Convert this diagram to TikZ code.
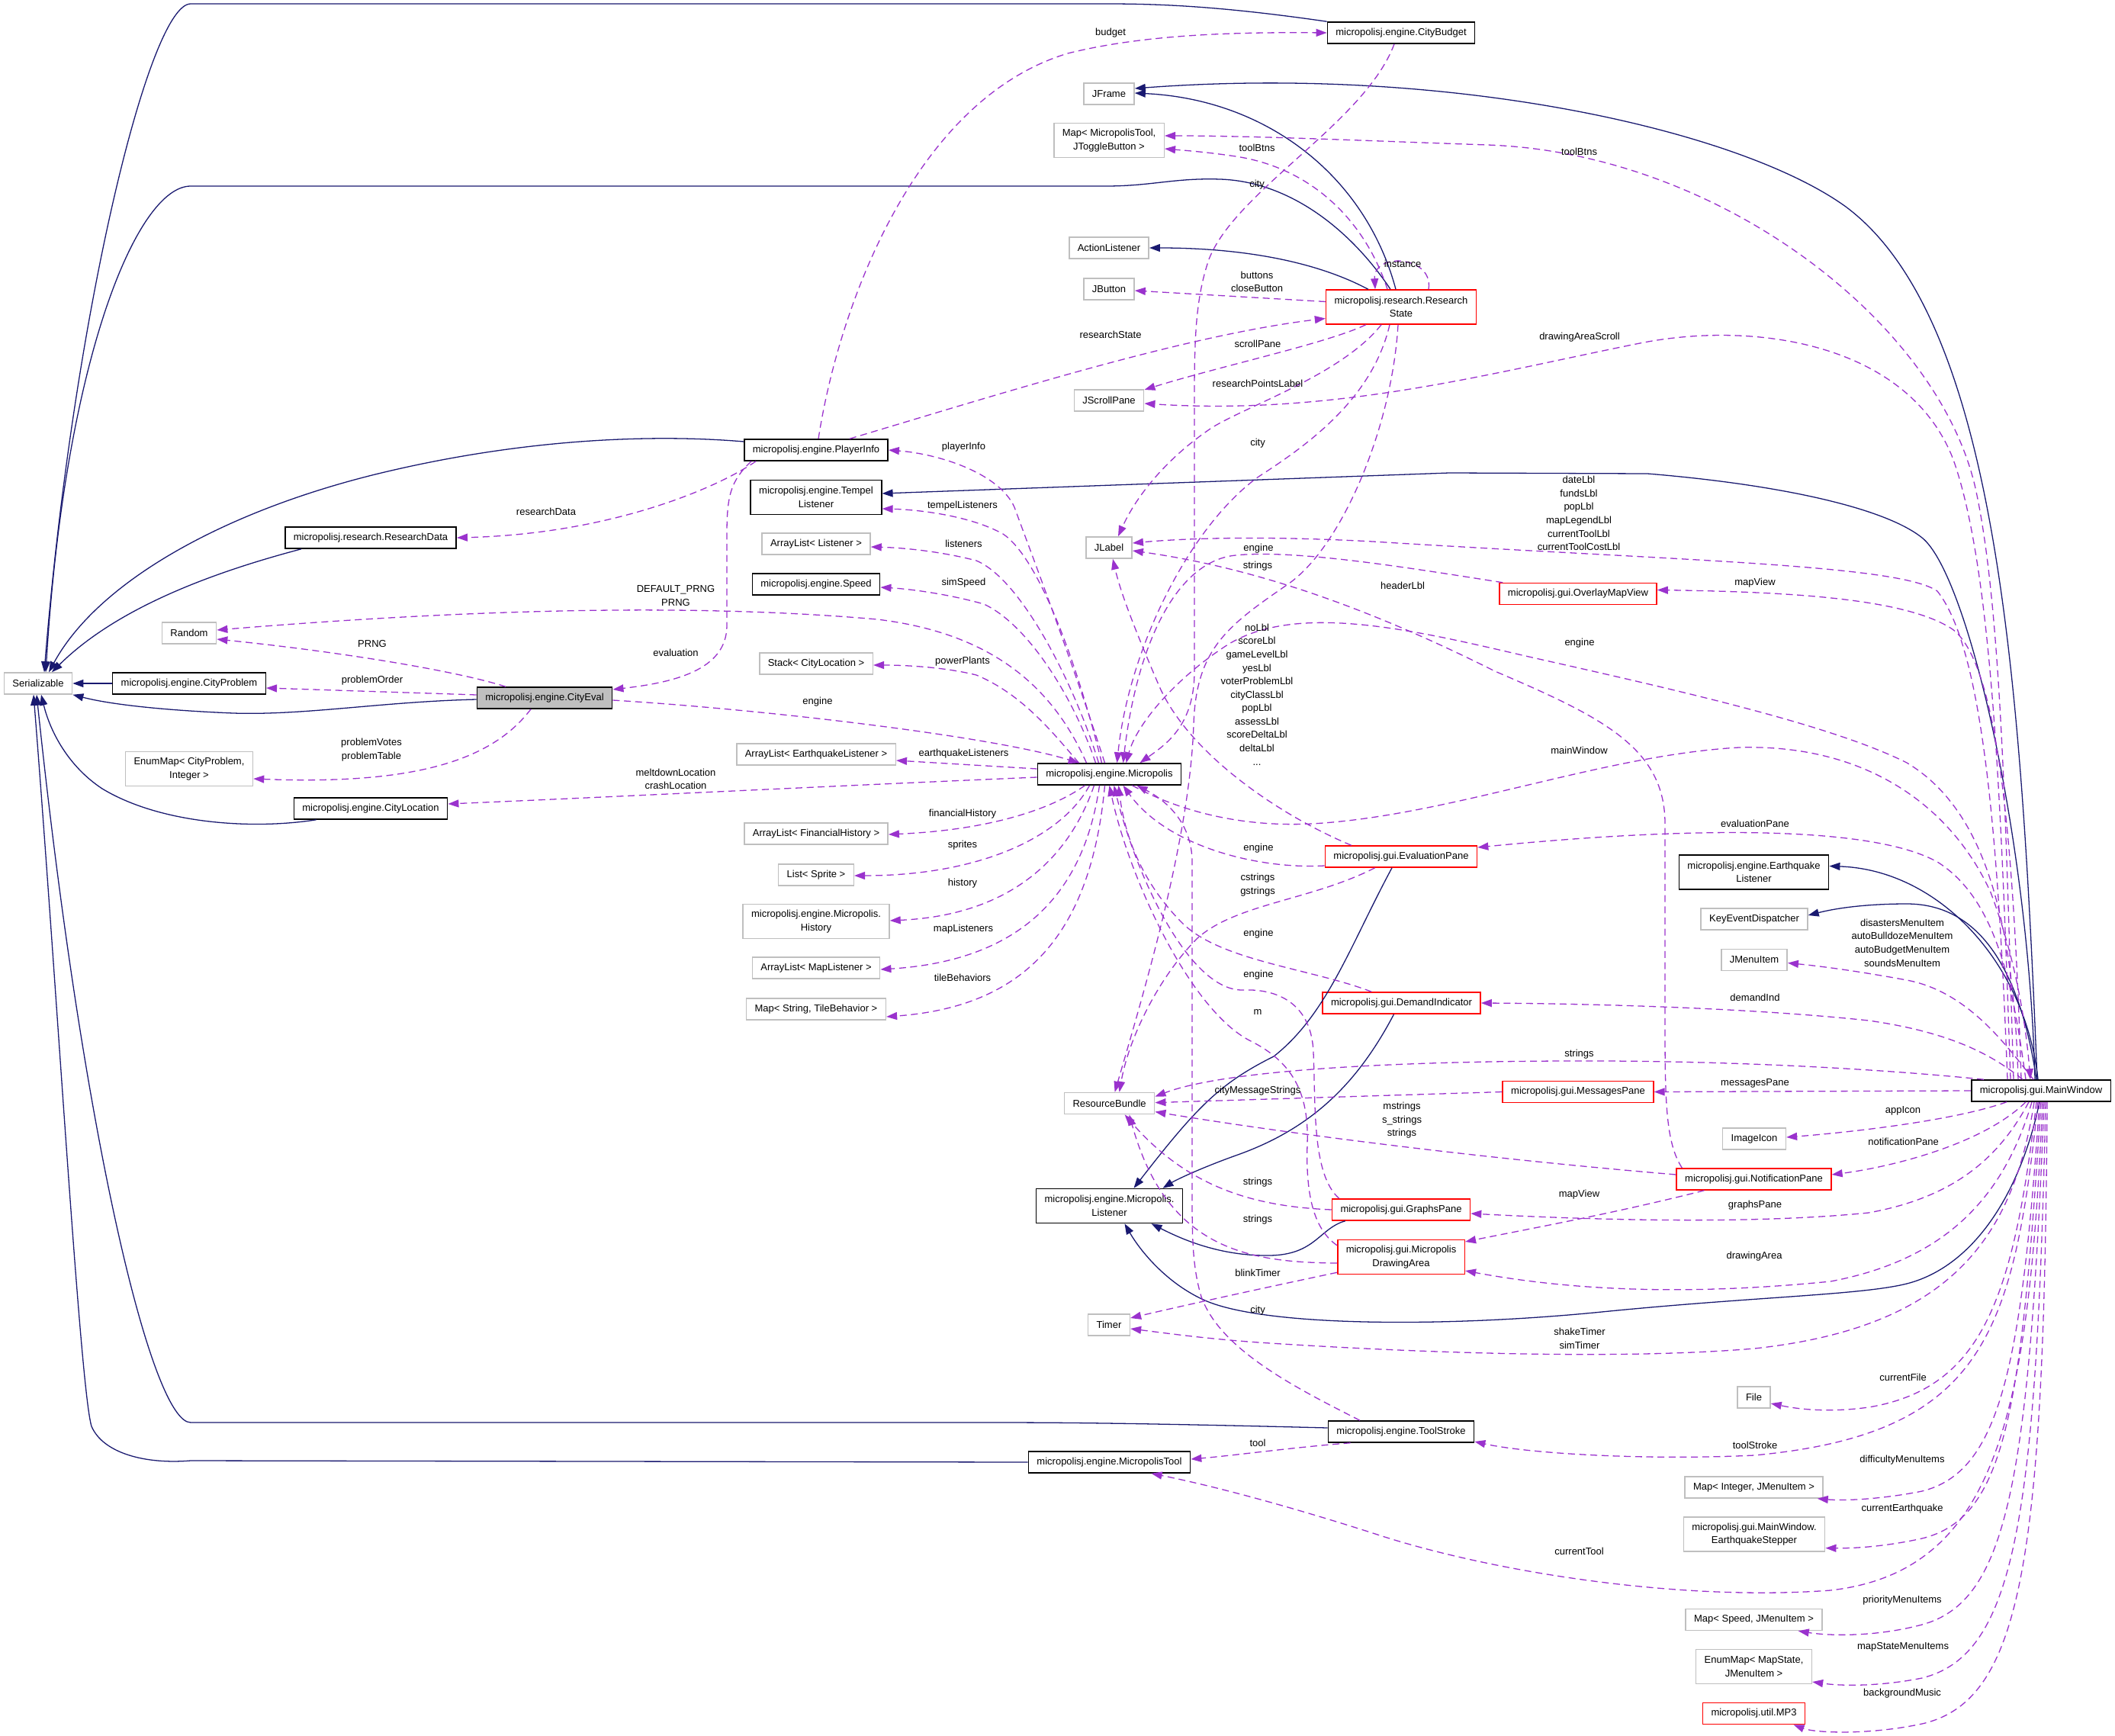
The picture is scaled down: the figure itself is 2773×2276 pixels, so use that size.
\documentclass[tikz,border=0pt]{standalone}
\usepackage{fontspec}
\setmainfont{Liberation Sans}
\usetikzlibrary{calc, arrows.meta}
\definecolor{inhblue}{RGB}{25,25,112}
\definecolor{usepurple}{RGB}{154,50,205}
\definecolor{boxgray}{RGB}{191,191,191}
\definecolor{boxred}{RGB}{255,0,0}
\tikzset{
  cls/.style={draw=black, fill=white, line width=1.3pt, inner xsep=9.4pt, inner ysep=0pt,
    minimum height=0.84cm, align=center, font=\fontsize{11.1}{15}\selectfont},
  ext/.style={cls, draw=boxgray},
  redcls/.style={cls, draw=boxred},
  twoline/.style={minimum height=1.35cm},
  inh/.style={draw=inhblue, line width=1.1pt, ->},
  use/.style={draw=usepurple, line width=1.1pt, dash pattern=on 0.27cm off 0.17cm, ->},
  lbl/.style={align=center, inner sep=0pt, font=\fontsize{11.1}{15}\selectfont}
}

\begin{document}
\begin{tikzpicture}[x=0.03cm, y=-0.03cm, >={Triangle[length=0.42cm,width=0.3cm]}]
    \fill[white] (0,0) rectangle (2773,2276);
    \useasboundingbox (0,0) rectangle (2773,2276);

    % classes
    \node[ext] (ser) at (50,896) {Serializable};
    \node[ext] (rnd) at (248,830) {Random};
    \node[cls] (cprob) at (248,896) {micropolisj.engine.CityProblem};
    \node[cls, fill=boxgray] (ceval) at (714,915) {micropolisj.engine.CityEval};
    \node[ext, twoline] (enummap) at (248,1008) {EnumMap< CityProblem,\\Integer >};
    \node[cls] (cloc) at (486,1060) {micropolisj.engine.CityLocation};
    \node[cls] (rdata) at (486,705) {micropolisj.research.ResearchData};
    \node[cls] (pinfo) at (1070,590) {micropolisj.engine.PlayerInfo};
    \node[cls, twoline] (tempel) at (1070,652) {micropolisj.engine.Tempel\\Listener};
    \node[ext] (alist) at (1070,713) {ArrayList< Listener >};
    \node[cls] (speed) at (1070,766) {micropolisj.engine.Speed};
    \node[ext] (stack) at (1070,870) {Stack< CityLocation >};
    \node[ext] (aeq) at (1070,989) {ArrayList< EarthquakeListener >};
    \node[ext] (afin) at (1070,1093) {ArrayList< FinancialHistory >};
    \node[ext] (lsprite) at (1070,1147) {List< Sprite >};
    \node[ext, twoline] (hist) at (1070,1208) {micropolisj.engine.Micropolis.\\History};
    \node[ext] (amap) at (1070,1269) {ArrayList< MapListener >};
    \node[ext] (mtile) at (1070,1323) {Map< String, TileBehavior >};
    \node[cls] (cbud) at (1837,43) {micropolisj.engine.CityBudget};
    \node[ext] (jframe) at (1454,123) {JFrame};
    \node[ext, twoline] (mtool) at (1454,184) {Map< MicropolisTool,\\JToggleButton >};
    \node[ext] (alis) at (1454,325) {ActionListener};
    \node[ext] (jbut) at (1454,379) {JButton};
    \node[redcls, twoline] (rstate) at (1837,402.5) {micropolisj.research.Research\\State};
    \node[ext] (jscroll) at (1454,525) {JScrollPane};
    \node[ext] (jlabel) at (1454,718) {JLabel};
    \node[cls] (micro) at (1454.5,1015) {micropolisj.engine.Micropolis};
    \node[ext] (rbund) at (1454.6,1446.6) {ResourceBundle};
    \node[cls, twoline] (mlist) at (1454.5,1581) {micropolisj.engine.Micropolis.\\Listener};
    \node[ext] (timer) at (1454,1737) {Timer};
    \node[cls] (mtoolc) at (1454.5,1917) {micropolisj.engine.MicropolisTool};
    \node[redcls] (evpane) at (1837,1123) {micropolisj.gui.EvaluationPane};
    \node[redcls] (dind) at (1837.5,1315) {micropolisj.gui.DemandIndicator};
    \node[redcls] (gpane) at (1837,1586) {micropolisj.gui.GraphsPane};
    \node[redcls, twoline] (darea) at (1837,1648) {micropolisj.gui.Micropolis\\DrawingArea};
    \node[cls] (tstroke) at (1837,1877) {micropolisj.engine.ToolStroke};
    \node[redcls] (omap) at (2069,778.5) {micropolisj.gui.OverlayMapView};
    \node[redcls] (mpane) at (2069,1431.5) {micropolisj.gui.MessagesPane};
    \node[cls, twoline] (eql) at (2299.5,1143.5) {micropolisj.engine.Earthquake\\Listener};
    \node[ext] (ked) at (2300,1205) {KeyEventDispatcher};
    \node[ext] (jmenu) at (2300,1258.5) {JMenuItem};
    \node[ext] (icon) at (2300,1493) {ImageIcon};
    \node[redcls] (npane) at (2299.5,1546) {micropolisj.gui.NotificationPane};
    \node[ext] (file) at (2299.5,1832) {File};
    \node[ext] (mint) at (2299.5,1950) {Map< Integer, JMenuItem >};
    \node[ext, twoline] (estep) at (2300,2011.6) {micropolisj.gui.MainWindow.\\EarthquakeStepper};
    \node[ext] (mspeed) at (2299.5,2123.5) {Map< Speed, JMenuItem >};
    \node[ext, twoline] (emap) at (2299.5,2185) {EnumMap< MapState,\\JMenuItem >};
    \node[redcls] (mp3) at (2299.5,2246.5) {micropolisj.util.MP3};
    \node[cls] (mwin) at (2676,1430) {micropolisj.gui.MainWindow};

    % inheritance
    \draw[inh] (cbud.north west) .. controls (1600,8) and (1520,5) .. (1450,5) -- (250,5) .. controls (195,5) and (95,420) .. ($(ser.north)+(8,0)$);
    \draw[inh] ($(rstate.north)+(-14,0)$) .. controls (1770,300) and (1690,238) .. (1600,235) .. controls (1540,233) and (1510,244) .. (1450,244) -- (250,244) .. controls (180,244) and (85,470) .. ($(ser.north)+(10,0)$);
    \draw[inh] ($(pinfo.west)+(0,-11)$) .. controls (870,570) and (700,572) .. (500,620) .. controls (300,668) and (130,760) .. ($(ser.north)+(14,0)$);
    \draw[inh] ($(rdata.south west)+(22,0)$) .. controls (300,745) and (160,790) .. ($(ser.north)+(18,0)$);
    \draw[inh] (cprob.west) -- (ser.east);
    \draw[inh] ($(ceval.west)+(0,2)$) .. controls (500,920) and (400,938) .. (306,935) .. controls (230,932) and (150,925) .. (ser.south east);
    \draw[inh] ($(cloc.south west)+(30,0)$) .. controls (330,1088) and (210,1080) .. (134,1034) .. controls (90,1005) and (66,960) .. ($(ser.south)+(4,0)$);
    \draw[inh] ($(tstroke.west)+(0,-5)$) .. controls (1500,1866) and (1400,1865) .. (1300,1865) -- (250,1865) .. controls (200,1865) and (110,1500) .. ($(ser.south)+(-2,0)$);
    \draw[inh] (mtoolc.west) -- (250,1915) .. controls (190,1920) and (135,1905) .. (120,1870) .. controls (105,1820) and (75,1300) .. ($(ser.south)+(-6,0)$);
    \draw[inh] ($(rstate.north)+(-7,0)$) .. controls (1790,230) and (1660,130) .. ($(jframe.east)+(0,-1)$);
    \draw[inh] ($(mwin.north)+(-5,0)$) .. controls (2650,900) and (2620,420) .. (2420,271) .. controls (2280,170) and (1900,85) .. ($(jframe.east)+(0,-7)$);
    \draw[inh] ($(rstate.north west)+(56,0)$) .. controls (1720,340) and (1620,325) .. (alis.east);
    \draw[inh] ($(mwin.north)+(-8,0)$) .. controls (2660,1100) and (2580,753) .. (2520,705) .. controls (2470,665) and (2330,635) .. (2160,621) -- (1900,620) -- ($(tempel.east)+(0,-5)$);
    \draw[inh] ($(mwin.north)+(-4,0)$) .. controls (2655,1260) and (2540,1140) .. ($(eql.east)+(0,-8)$);
    \draw[inh] ($(mwin.north)+(-6,0)$) .. controls (2650,1280) and (2600,1185) .. (2500,1185) .. controls (2450,1185) and (2410,1190) .. ($(ked.east)+(0,-5)$);
    \draw[inh] ($(evpane.south)+(-12,0)$) .. controls (1770,1240) and (1740,1330) .. (1670,1385) .. controls (1600,1420) and (1570,1450) .. ($(mlist.north)+(32,0)$);
    \draw[inh] ($(dind.south)+(-10,0)$) .. controls (1780,1420) and (1720,1480) .. (1620,1515) .. controls (1570,1533) and (1540,1548) .. ($(mlist.north)+(70,0)$);
    \draw[inh] ($(gpane.south west)+(18,0)$) .. controls (1730,1610) and (1725,1645) .. (1665,1646) .. controls (1600,1647) and (1550,1625) .. ($(mlist.south)+(55,0)$);
    \draw[inh] ($(mwin.south)+(-2,0)$) .. controls (2650,1560) and (2590,1660) .. (2500,1683) .. controls (2440,1698) and (2300,1700) .. (2100,1720) .. controls (1900,1740) and (1660,1740) .. (1580,1705) .. controls (1530,1683) and (1495,1640) .. ($(mlist.south)+(20,0)$);

    % usage: CityEval, PlayerInfo
    \draw[use] ($(ceval.north)+(-51,0)$) .. controls (600,880) and (450,855) .. ($(rnd.east)+(0,8)$);
    \draw[use] ($(ceval.west)+(0,-4)$) -- ($(cprob.east)+(0,6)$);
    \draw[use] ($(ceval.south)+(-18,0)$) .. controls (650,990) and (560,1030) .. ($(enummap.east)+(0,13)$);
    \draw[use] ($(ceval.east)+(0,3)$) .. controls (1000,930) and (1300,965) .. ($(micro.north west)+(55,0)$);
    \draw[use] ($(pinfo.north)+(3,0)$) .. controls (1100,400) and (1200,130) .. (1400,70) .. controls (1500,45) and (1620,42) .. (cbud.west);
    \draw[use] ($(pinfo.north east)+(-51,0)$) .. controls (1300,520) and (1550,440) .. ($(rstate.west)+(0,15)$);
    \draw[use] ($(pinfo.south west)+(16,0)$) .. controls (940,640) and (800,700) .. (rdata.east);
    \draw[use] ($(pinfo.south west)+(10,0)$) .. controls (958,630) and (953,650) .. (953,700) -- (953,820) .. controls (953,880) and (880,895) .. ($(ceval.east)+(0,-11)$);

    % usage: ResearchState, CityBudget, ToolStroke
    \draw[use] ($(rstate.north)+(36,0)$) .. controls (1880,335) and (1800,330) .. ($(rstate.north)+(-34,0)$);
    \draw[use] ($(rstate.north)+(-18,0)$) .. controls (1790,290) and (1720,220) .. (1620,205) .. controls (1580,199) and (1550,197) .. ($(mtool.east)+(0,11)$);
    \draw[use] ($(rstate.west)+(0,-7)$) -- ($(jbut.east)+(0,2)$);
    \draw[use] ($(rstate.south west)+(53,0)$) .. controls (1740,450) and (1600,480) .. ($(jscroll.east)+(0,-14)$);
    \draw[use] ($(rstate.south)+(-26,0)$) .. controls (1760,490) and (1640,530) .. (1590,560) .. controls (1530,600) and (1490,650) .. ($(jlabel.north)+(12,0)$);
    \draw[use] ($(rstate.south)+(-15,0)$) .. controls (1800,520) and (1720,580) .. (1650,625) .. controls (1560,690) and (1480,850) .. ($(micro.north)+(10,0)$);
    \draw[use] ($(rstate.south)+(-4,0)$) .. controls (1825,560) and (1760,715) .. (1690,765) .. controls (1610,820) and (1568,850) .. (1565,950) .. controls (1560,1100) and (1500,1300) .. ($(rbund.north)+(7,0)$);
    \draw[use] ($(cbud.south)+(-9,0)$) .. controls (1790,160) and (1620,250) .. (1585,340) .. controls (1568,390) and (1566,440) .. (1566,520) -- (1566,880) .. controls (1566,950) and (1530,975) .. ($(micro.north)+(40,0)$);
    \draw[use] ($(tstroke.north)+(-54,0)$) .. controls (1700,1820) and (1600,1770) .. (1575,1700) .. controls (1563,1660) and (1563,1620) .. (1563,1560) -- (1563,1130) .. controls (1563,1080) and (1530,1050) .. ($(micro.south)+(36,0)$);
    \draw[use] ($(tstroke.south west)+(30,0)$) .. controls (1700,1897) and (1620,1908) .. ($(mtoolc.east)+(0,-4)$);

    % usage: Micropolis
    \draw[use] ($(micro.north)+(-6,0)$) .. controls (1400,850) and (1350,720) .. (1330,665) .. controls (1310,620) and (1230,595) .. (pinfo.east);
    \draw[use] ($(micro.north)+(-10,0)$) .. controls (1410,860) and (1360,730) .. (1315,700) .. controls (1270,675) and (1200,668) .. ($(tempel.east)+(0,15)$);
    \draw[use] ($(micro.north)+(-14,0)$) .. controls (1410,900) and (1340,760) .. (1280,735) .. controls (1230,722) and (1180,718) .. ($(alist.east)+(0,4)$);
    \draw[use] ($(micro.north)+(-18,0)$) .. controls (1410,920) and (1350,820) .. (1290,792) .. controls (1240,778) and (1190,772) .. ($(speed.east)+(0,4)$);
    \draw[use] ($(micro.north)+(-30,0)$) .. controls (1380,900) and (1300,830) .. (1150,812) .. controls (900,790) and (600,800) .. ($(rnd.east)+(0,-4)$);
    \draw[use] ($(micro.north)+(-40,0)$) .. controls (1380,960) and (1340,910) .. (1280,885) .. controls (1240,875) and (1190,872) .. ($(stack.east)+(0,2)$);
    \draw[use] ($(micro.west)+(0,-7)$) -- ($(aeq.east)+(0,8)$);
    \draw[use] ($(micro.west)+(0,4)$) .. controls (1100,1030) and (800,1045) .. ($(cloc.east)+(0,-6)$);
    \draw[use] ($(micro.south)+(-32,0)$) .. controls (1380,1060) and (1300,1088) .. ($(afin.east)+(0,1)$);
    \draw[use] ($(micro.south)+(-26,0)$) .. controls (1390,1100) and (1280,1148) .. ($(lsprite.east)+(0,1)$);
    \draw[use] ($(micro.south)+(-20,0)$) .. controls (1400,1130) and (1320,1200) .. ($(hist.east)+(0,-1)$);
    \draw[use] ($(micro.south)+(-13,0)$) .. controls (1420,1180) and (1330,1260) .. ($(amap.east)+(0,2)$);
    \draw[use] ($(micro.south)+(-6,0)$) .. controls (1430,1230) and (1340,1320) .. ($(mtile.east)+(0,10)$);
    \draw[use] ($(micro.south)+(30,0)$) .. controls (1540,1060) and (1620,1085) .. (1720,1080) .. controls (1900,1070) and (2100,990) .. (2280,980) .. controls (2450,975) and (2560,1060) .. (2610,1170) .. controls (2640,1250) and (2655,1330) .. ($(mwin.north)+(-14,0)$);

    % usage: gui panes
    \draw[use] ($(omap.north west)+(5,0)$) .. controls (1850,745) and (1700,720) .. (1620,728) .. controls (1540,736) and (1490,850) .. ($(micro.north)+(18,0)$);
    \draw[use] ($(evpane.west)+(0,12)$) .. controls (1650,1140) and (1530,1110) .. ($(micro.south)+(18,0)$);
    \draw[use] ($(evpane.south west)+(66,0)$) .. controls (1720,1180) and (1620,1185) .. (1570,1230) .. controls (1520,1280) and (1480,1360) .. ($(rbund.north)+(13,0)$);
    \draw[use] ($(evpane.north west)+(35,0)$) .. controls (1680,1070) and (1560,990) .. (1520,900) .. controls (1490,830) and (1470,780) .. ($(jlabel.south)+(5,0)$);
    \draw[use] ($(dind.north west)+(65,0)$) .. controls (1720,1270) and (1600,1260) .. (1550,1210) .. controls (1500,1160) and (1475,1100) .. ($(micro.south)+(12,0)$);
    \draw[use] ($(gpane.north west)+(10,0)$) .. controls (1720,1540) and (1725,1450) .. (1722,1380) .. controls (1720,1320) and (1680,1296) .. (1630,1298) .. controls (1560,1300) and (1490,1150) .. ($(micro.south)+(6,0)$);
    \draw[use] ($(darea.north west)+(0,8)$) .. controls (1720,1610) and (1712,1560) .. (1714,1500) .. controls (1716,1440) and (1700,1395) .. (1640,1365) .. controls (1560,1325) and (1480,1150) .. (micro.south);
    \draw[use] (gpane.west) .. controls (1650,1582) and (1560,1560) .. ($(rbund.south)+(20,0)$);
    \draw[use] ($(darea.west)+(0,8)$) .. controls (1640,1655) and (1530,1640) .. ($(rbund.south)+(26,0)$);
    \draw[use] ($(darea.south west)+(0,-3)$) .. controls (1650,1690) and (1550,1712) .. ($(timer.east)+(0,-9)$);
    \draw[use] ($(npane.west)+(0,-6)$) .. controls (1900,1515) and (1650,1480) .. ($(rbund.east)+(0,11)$);
    \draw[use] ($(npane.south west)+(37,0)$) .. controls (2120,1590) and (2000,1612) .. ($(darea.east)+(0,-20)$);
    \draw[use] ($(npane.north west)+(8,0)$) .. controls (2185,1500) and (2183,1450) .. (2183,1350) -- (2183,1080) .. controls (2183,980) and (2100,940) .. (1960,880) .. controls (1800,800) and (1650,745) .. ($(jlabel.east)+(0,4)$);
    \draw[use] (mpane.west) -- ($(rbund.east)+(0,-1)$);

    % usage: MainWindow
    \draw[use] ($(mwin.north)+(-30,0)$) .. controls (2640,1200) and (2600,1060) .. (2500,1000) .. controls (2400,950) and (2200,905) .. (2000,860) .. controls (1850,825) and (1700,790) .. (1610,845) .. controls (1540,890) and (1490,950) .. ($(micro.north)+(22,0)$);
    \draw[use] ($(mwin.north)+(-36,0)$) .. controls (2630,1100) and (2625,800) .. (2590,640) .. controls (2540,420) and (2250,200) .. (1950,190) .. controls (1800,185) and (1650,178) .. ($(mtool.east)+(0,-6)$);
    \draw[use] ($(mwin.north)+(-40,0)$) .. controls (2625,1100) and (2615,750) .. (2560,600) .. controls (2500,450) and (2300,420) .. (2150,450) .. controls (1950,490) and (1750,545) .. ($(jscroll.east)+(0,4)$);
    \draw[use] ($(mwin.north)+(-44,0)$) .. controls (2620,1100) and (2600,850) .. (2540,775) .. controls (2490,740) and (2200,735) .. (1800,710) .. controls (1650,702) and (1550,706) .. ($(jlabel.east)+(0,-6)$);
    \draw[use] ($(mwin.north)+(-26,0)$) .. controls (2640,1100) and (2620,870) .. (2560,825) .. controls (2500,785) and (2350,776) .. ($(omap.east)+(0,-5)$);
    \draw[use] ($(mwin.north)+(-20,0)$) .. controls (2640,1300) and (2620,1180) .. (2540,1130) .. controls (2450,1080) and (2200,1085) .. ($(evpane.east)+(0,-12)$);
    \draw[use] ($(mwin.north)+(-10,0)$) .. controls (2630,1370) and (2580,1300) .. (2500,1285) .. controls (2430,1272) and (2380,1266) .. ($(jmenu.east)+(0,4)$);
    \draw[use] ($(mwin.north)+(-24,0)$) .. controls (2620,1390) and (2570,1355) .. (2450,1338) .. controls (2300,1322) and (2100,1316) .. (dind.east);
    \draw[use] ($(mwin.north west)+(17,0)$) .. controls (2450,1400) and (2250,1390) .. (2050,1391) .. controls (1800,1392) and (1600,1405) .. ($(rbund.east)+(0,-9)$);
    \draw[use] (mwin.west) -- (mpane.east);
    \draw[use] ($(mwin.south)+(-45,0)$) .. controls (2560,1470) and (2420,1485) .. ($(icon.east)+(0,-2)$);
    \draw[use] ($(mwin.south)+(-20,0)$) .. controls (2600,1500) and (2480,1530) .. ($(npane.east)+(0,-6)$);
    \draw[use] ($(mwin.south)+(-16,0)$) .. controls (2620,1520) and (2560,1570) .. (2450,1590) .. controls (2300,1605) and (2100,1600) .. ($(gpane.east)+(0,5)$);
    \draw[use] ($(mwin.south)+(-12,0)$) .. controls (2630,1560) and (2560,1650) .. (2400,1680) .. controls (2200,1700) and (2050,1690) .. ($(darea.east)+(0,18)$);
    \draw[use] ($(mwin.south)+(-9,0)$) .. controls (2640,1620) and (2560,1740) .. (2300,1768) .. controls (2100,1785) and (1800,1770) .. (1650,1760) .. controls (1580,1755) and (1530,1748) .. ($(timer.east)+(0,5)$);
    \draw[use] ($(mwin.south)+(-6,0)$) .. controls (2640,1700) and (2600,1820) .. (2450,1845) .. controls (2400,1852) and (2360,1848) .. ($(file.east)+(0,8)$);
    \draw[use] ($(mwin.south)+(-4,0)$) .. controls (2640,1750) and (2600,1880) .. (2300,1908) .. controls (2150,1915) and (2000,1905) .. ($(tstroke.east)+(0,13)$);
    \draw[use] ($(mwin.south)+(-2,0)$) .. controls (2650,1800) and (2620,1930) .. (2520,1955) .. controls (2470,1965) and (2420,1968) .. ($(mint.south east)+(-8,0)$);
    \draw[use] (mwin.south) .. controls (2650,1850) and (2630,1990) .. (2520,2017) .. controls (2470,2028) and (2430,2030) .. ($(estep.east)+(0,18)$);
    \draw[use] ($(mwin.south)+(2,0)$) .. controls (2660,1850) and (2620,2060) .. (2400,2085) .. controls (2200,2100) and (1950,2060) .. (1800,2010) .. controls (1700,1978) and (1600,1950) .. ($(mtoolc.south)+(55,0)$);
    \draw[use] ($(mwin.south)+(4,0)$) .. controls (2660,1950) and (2630,2100) .. (2520,2130) .. controls (2460,2146) and (2400,2145) .. ($(mspeed.south east)+(-32,0)$);
    \draw[use] ($(mwin.south)+(6,0)$) .. controls (2670,2000) and (2640,2170) .. (2520,2200) .. controls (2460,2212) and (2410,2210) .. ($(emap.east)+(0,20)$);
    \draw[use] ($(mwin.south)+(8,0)$) .. controls (2680,2050) and (2650,2230) .. (2520,2260) .. controls (2450,2275) and (2380,2272) .. ($(mp3.south)+(52,0)$);

    % edge labels
    \node[lbl] (lprng) at (886,781) {DEFAULT\_PRNG\\PRNG};
    \node[lbl] (lprng2) at (488,844) {PRNG};
    \node[lbl] (leval) at (886,856) {evaluation};
    \node[lbl] (lorder) at (488,892) {problemOrder};
    \node[lbl] (lvotes) at (487,983) {problemVotes\\problemTable};
    \node[lbl] (lmelt) at (886,1021.5) {meltdownLocation\\crashLocation};
    \node[lbl] (leng1) at (1072,920) {engine};
    \node[lbl] (lrdata) at (716,671) {researchData};
    \node[lbl] (lbudget) at (1456,43) {budget};
    \node[lbl] (ltool1) at (1648,194) {toolBtns};
    \node[lbl] (lcity1) at (1648,242) {city};
    \node[lbl] (linst) at (1839,346) {instance};
    \node[lbl] (lbut) at (1648,369.5) {buttons\\closeButton};
    \node[lbl] (lrstate) at (1456,438.6) {researchState};
    \node[lbl] (lscroll) at (1649,450.8) {scrollPane};
    \node[lbl] (lrpl) at (1649,503) {researchPointsLabel};
    \node[lbl] (lcity2) at (1649,580.7) {city};
    \node[lbl] (lpinfo) at (1263.5,586.5) {playerInfo};
    \node[lbl] (ltempel) at (1262,663.6) {tempelListeners};
    \node[lbl] (llist) at (1263.5,712.5) {listeners};
    \node[lbl] (leng2) at (1650,719) {engine};
    \node[lbl] (lstr1) at (1649,742.6) {strings};
    \node[lbl] (lspeed) at (1263.5,764) {simSpeed};
    \node[lbl] (lheader) at (1839,768) {headerLbl};
    \node[lbl] (lnolbl) at (1648,910.5) {noLbl\\scoreLbl\\gameLevelLbl\\yesLbl\\voterProblemLbl\\cityClassLbl\\popLbl\\assessLbl\\scoreDeltaLbl\\deltaLbl\\...};
    \node[lbl] (lpower) at (1262,867) {powerPlants};
    \node[lbl] (lquake) at (1263.5,988) {earthquakeListeners};
    \node[lbl] (lfin) at (1262,1067) {financialHistory};
    \node[lbl] (lsprites) at (1262,1108) {sprites};
    \node[lbl] (lhist) at (1262,1158) {history};
    \node[lbl] (lmaplist) at (1263,1218) {mapListeners};
    \node[lbl] (ltile) at (1262,1282) {tileBehaviors};
    \node[lbl] (leng3) at (1650,1112) {engine};
    \node[lbl] (lcstr) at (1649,1160) {cstrings\\gstrings};
    \node[lbl] (leng4) at (1650,1224.5) {engine};
    \node[lbl] (leng5) at (1650,1278.6) {engine};
    \node[lbl] (lm) at (1649,1326.5) {m};
    \node[lbl] (lcms) at (1649,1430.6) {cityMessageStrings};
    \node[lbl] (lmstr) at (1838,1469) {mstrings\\s\_strings\\strings};
    \node[lbl] (lstr2) at (1649,1550) {strings};
    \node[lbl] (lstr3) at (1649,1599.5) {strings};
    \node[lbl] (lblink) at (1649,1668.7) {blinkTimer};
    \node[lbl] (lcity3) at (1649,1718.5) {city};
    \node[lbl] (ltool) at (1649,1891.6) {tool};
    \node[lbl] (ltool2) at (2070.5,199) {toolBtns};
    \node[lbl] (lscroll2) at (2071,442.5) {drawingAreaScroll};
    \node[lbl] (ldate) at (2070,673) {dateLbl\\fundsLbl\\popLbl\\mapLegendLbl\\currentToolLbl\\currentToolCostLbl};
    \node[lbl] (lmapv1) at (2301,764) {mapView};
    \node[lbl] (leng6) at (2071,843) {engine};
    \node[lbl] (lmainw) at (2070.5,983.7) {mainWindow};
    \node[lbl] (levpane) at (2301,1079.6) {evaluationPane};
    \node[lbl] (lmenu) at (2494,1236) {disastersMenuItem\\autoBulldozeMenuItem\\autoBudgetMenuItem\\soundsMenuItem};
    \node[lbl] (ldemand) at (2301,1308) {demandInd};
    \node[lbl] (lstr4) at (2070.5,1382.6) {strings};
    \node[lbl] (lmsg) at (2301,1420.4) {messagesPane};
    \node[lbl] (licon) at (2495,1456.6) {appIcon};
    \node[lbl] (lnotif) at (2495.6,1496.7) {notificationPane};
    \node[lbl] (lmapv2) at (2070.5,1566.5) {mapView};
    \node[lbl] (lgraphs) at (2301,1580.5) {graphsPane};
    \node[lbl] (ldraw) at (2300,1647.5) {drawingArea};
    \node[lbl] (ltimer) at (2071,1755) {shakeTimer\\simTimer};
    \node[lbl] (lfile) at (2495,1806) {currentFile};
    \node[lbl] (lstroke) at (2301,1894.5) {toolStroke};
    \node[lbl] (ldiff) at (2494,1914) {difficultyMenuItems};
    \node[lbl] (lquake2) at (2494,1978) {currentEarthquake};
    \node[lbl] (lctool) at (2070.5,2034) {currentTool};
    \node[lbl] (lprio) at (2494,2098) {priorityMenuItems};
    \node[lbl] (lmapst) at (2495,2159) {mapStateMenuItems};
    \node[lbl] (lmusic) at (2494,2220) {backgroundMusic};
\end{tikzpicture}
\end{document}
